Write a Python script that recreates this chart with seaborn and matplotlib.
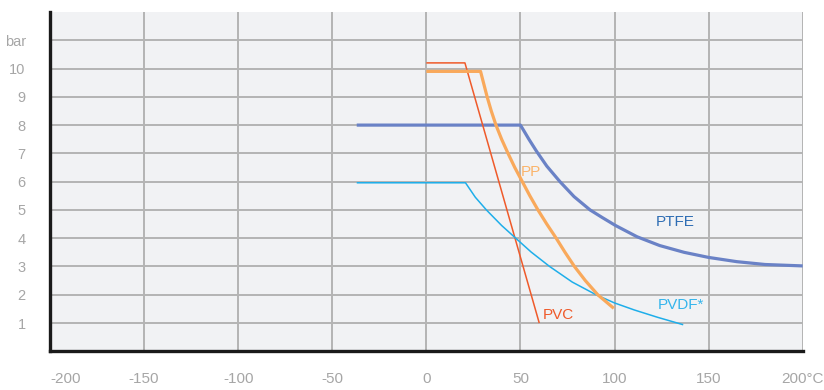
import matplotlib
matplotlib.use("Agg")
import matplotlib.pyplot as plt
import seaborn as sns
import pandas as pd

# ---- data (temperature °C, pressure bar) ----
ptfe_x = [-37, 50, 52, 54.5, 58.5, 64, 71, 78.5, 87, 93.5, 100.5, 112, 124, 137, 150, 165, 180, 200]
ptfe_y = [8.0, 8.0, 7.78, 7.5, 7.08, 6.55, 6.0, 5.47, 5.0, 4.73, 4.45, 4.05, 3.74, 3.5, 3.32, 3.17, 3.07, 3.02]

pp_x = [0, 28.8, 32.3, 34.5, 37, 40, 43.4, 47, 51, 55, 59.3, 64, 69, 73.7, 78.7, 84.5, 91.1, 99.6]
pp_y = [9.9, 9.9, 9.0, 8.5, 8.0, 7.5, 7.0, 6.5, 6.0, 5.5, 5.0, 4.5, 4.0, 3.5, 3.0, 2.5, 2.0, 1.52]

pvc_x = [0, 20.5, 60]
pvc_y = [10.2, 10.2, 1.0]

pvdf_x = [-37, 20.8, 26, 31.9, 40, 47.5, 55.7, 65.5, 77.5, 90.2, 100, 110.6, 123, 136.5]
pvdf_y = [5.96, 5.96, 5.45, 5.0, 4.45, 4.0, 3.51, 3.0, 2.45, 2.0, 1.71, 1.46, 1.2, 0.94]

x_ticks = [-200, -150, -100, -50, 0, 50, 100, 150, 200]
x_labels = ["-200", "-150", "-100", "-50", "0", "50", "100", "150", "200°C"]
y_ticks = [1, 2, 3, 4, 5, 6, 7, 8, 9, 10, 11]
y_labels = ["1", "2", "3", "4", "5", "6", "7", "8", "9", "10", "bar"]

labels = ["PTFE", "PP", "PVC", "PVDF*"]
label_x = [132.4, 55.6, 70, 135.5]
label_y = [4.57, 6.34, 1.29, 1.62]

# ---- style ----
sns.set_style("white")
plt.rcParams["font.family"] = ["Liberation Sans", "DejaVu Sans"]

line_colors = {"PTFE": "#6a82c6", "PP": "#f9a95b", "PVC": "#ef5a2a", "PVDF*": "#1eaeea"}
text_colors = {"PTFE": "#2e6db4", "PP": "#fbb46a", "PVC": "#ef5a2a", "PVDF*": "#35b5ec"}
widths = {"PTFE": 2.3, "PP": 2.3, "PVC": 1.1, "PVDF*": 1.1}

fig = plt.figure(figsize=(8.24, 3.90), dpi=100)
ax = fig.add_axes([50 / 824, (390 - 351.3) / 390, (802.7 - 50) / 824, (351.3 - 12) / 390])
ax.set_facecolor("#f1f2f4")

grid_c = "#b4b4b4"
ax.set_xlim(-200, 200)
ax.set_ylim(0, 12)
ax.set_xticks(x_ticks)
ax.set_xticklabels(x_labels)
ax.set_yticks(y_ticks)
ax.set_yticklabels(y_labels)
ax.grid(True, color=grid_c, linewidth=1.4, zorder=0)
ax.set_axisbelow(True)

ax.tick_params(axis="x", length=9, width=1.4, color=grid_c, pad=6,
               labelsize=11, labelcolor="#a6a6a6")
ax.tick_params(axis="y", length=7.5, width=1.4, color=grid_c, pad=10,
               labelsize=10.5, labelcolor="#a6a6a6")
ax.xaxis.get_major_ticks()[0].tick1line.set_visible(False)
ax.get_xticklabels()[0].set_horizontalalignment("left")

for s in ["top", "right"]:
    ax.spines[s].set_visible(False)
for s in ["left", "bottom"]:
    ax.spines[s].set_color("#1a1a1a")
    ax.spines[s].set_linewidth(2.4)
    ax.spines[s].set_zorder(5)

series = {
    "PTFE": (ptfe_x, ptfe_y),
    "PVC": (pvc_x, pvc_y),
    "PVDF*": (pvdf_x, pvdf_y),
    "PP": (pp_x, pp_y),
}
for name, (xs, ys) in series.items():
    df = pd.DataFrame({"temp": xs, "bar": ys})
    sns.lineplot(data=df, x="temp", y="bar", ax=ax, sort=False, estimator=None,
                 color=line_colors[name], linewidth=widths[name],
                 solid_capstyle="butt", solid_joinstyle="round", zorder=3)

for name, lx, ly in zip(labels, label_x, label_y):
    ax.text(lx, ly, name, color=text_colors[name], fontsize=11,
            ha="center", va="center", zorder=4)

ax.set_xlabel("")
ax.set_ylabel("")
fig.savefig("out.png", dpi=100)
